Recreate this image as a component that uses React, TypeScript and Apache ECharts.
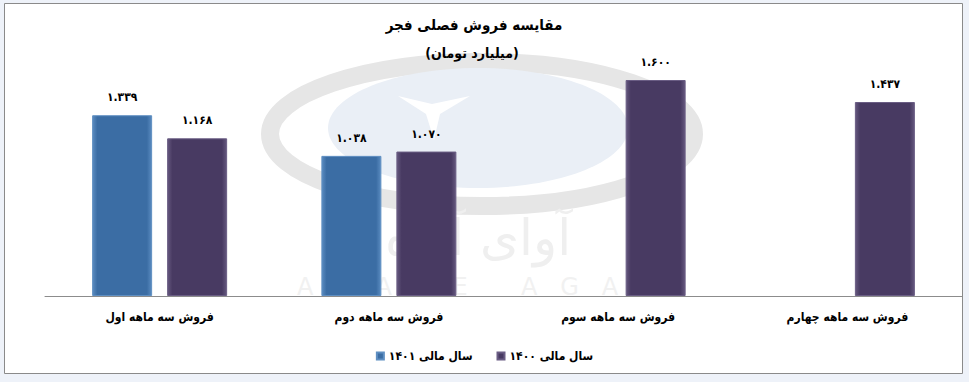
import React, { useEffect, useRef } from "react";
import * as echarts from "echarts";

const titleText = "مقایسه فروش فصلی فجر";
const subtitleText = "(میلیارد تومان)";
const categories = [
  "فروش سه ماهه اول",
  "فروش سه ماهه دوم",
  "فروش سه ماهه سوم",
  "فروش سه ماهه چهارم",
];
const seriesNames = ["سال مالی ۱۴۰۱", "سال مالی ۱۴۰۰"];
const values1401 = [1.339, 1.038, null, null];
const values1400 = [1.168, 1.07, 1.6, 1.437];

const faDigits = "۰۱۲۳۴۵۶۷۸۹";
const toFa = (v: number) =>
  v.toFixed(3).replace(/[0-9]/g, (d) => faDigits[Number(d)]);

const FONT = "'DejaVu Sans Condensed', 'DejaVu Sans', sans-serif";

export default function App() {
  const ref = useRef<HTMLDivElement>(null);
  useEffect(() => {
    document.body.style.margin = "0";
    if (!ref.current) return;
    const chart = echarts.init(ref.current, undefined, { renderer: "svg" });
    const barGrad = (c1: string, c2: string) =>
      new echarts.graphic.LinearGradient(0, 0, 1, 0, [
        { offset: 0, color: c2 },
        { offset: 0.08, color: c1 },
        { offset: 0.92, color: c1 },
        { offset: 1, color: c2 },
      ]);
    const labelCfg = {
      show: true,
      position: "top",
      distance: 12,
      formatter: (p: any) => toFa(p.value),
      fontFamily: FONT,
      fontSize: 12,
      fontWeight: "bold",
      color: "#000",
    };
    chart.setOption({
      animation: false,
      backgroundColor: "#eef2f9",
      textStyle: { fontFamily: FONT },
      graphic: [
        {
          type: "rect",
          z: -10,
          shape: { x: 4.5, y: 3.5, width: 958, height: 370 },
          style: { fill: "#ffffff", stroke: "#8a8a8a", lineWidth: 1 },
          silent: true,
        },
        {
          type: "ellipse",
          z: -9,
          shape: { cx: 482, cy: 134, rx: 212, ry: 72 },
          style: { fill: "none", stroke: "#e6e6e6", lineWidth: 18 },
          silent: true,
        },
        {
          type: "ellipse",
          z: -8,
          shape: { cx: 478, cy: 128, rx: 150, ry: 60 },
          style: { fill: "#eaeff6" },
          silent: true,
        },
        {
          type: "polygon",
          z: -7,
          shape: {
            points: [
              [398, 96],
              [432, 104],
              [470, 96],
              [440, 114],
              [434, 140],
              [426, 114],
            ],
          },
          style: { fill: "#ffffff" },
          silent: true,
        },
        {
          type: "text",
          z: -7,
          x: 478,
          y: 238,
          style: {
            text: "آوای آگاه",
            fill: "#efefef",
            font: "50px 'DejaVu Sans', sans-serif",
            textAlign: "center",
            textVerticalAlign: "middle",
          },
          silent: true,
        },
        {
          type: "text",
          z: -7,
          x: 478,
          y: 287,
          style: {
            text: "A   V   A   Y   E       A   G   A   H",
            fill: "#f1f1f1",
            font: "24px 'DejaVu Sans', sans-serif",
            textAlign: "center",
            textVerticalAlign: "middle",
          },
          silent: true,
        },
      ],
      title: [
        {
          text: titleText,
          left: 469,
          top: 12,
          textAlign: "center",
          textStyle: { fontFamily: FONT, fontSize: 15, fontWeight: "bold", color: "#000" },
        },
        {
          text: subtitleText,
          left: 467,
          top: 41,
          textAlign: "center",
          textStyle: { fontFamily: FONT, fontSize: 14, fontWeight: "bold", color: "#000" },
        },
      ],
      legend: {
        left: "center",
        top: 345,
        icon: "rect",
        itemWidth: 7,
        itemHeight: 7,
        itemGap: 24,
        data: seriesNames,
        textStyle: { fontFamily: FONT, fontSize: 12, fontWeight: "bold", color: "#000" },
      },
      grid: { left: 45, right: 7, top: 53, bottom: 86 },
      xAxis: {
        type: "category",
        data: categories,
        axisLine: { lineStyle: { color: "#8c8c8c" } },
        axisTick: { show: false },
        axisLabel: {
          margin: 15,
          fontFamily: FONT,
          fontSize: 12,
          fontWeight: "bold",
          color: "#000",
        },
      },
      yAxis: {
        type: "value",
        min: 0,
        max: 1.8,
        show: false,
        splitLine: { show: false },
      },
      series: [
        {
          name: seriesNames[0],
          type: "bar",
          data: values1401,
          barWidth: 60,
          barGap: "25%",
          itemStyle: {
            color: barGrad("#3b6da4", "#5a8bc0"),
            borderColor: "#5f8fc2",
            borderWidth: 1,
          },
          label: labelCfg,
        },
        {
          name: seriesNames[1],
          type: "bar",
          data: values1400,
          barWidth: 60,
          barGap: "25%",
          itemStyle: {
            color: barGrad("#483a62", "#65587e"),
            borderColor: "#6a5d84",
            borderWidth: 1,
          },
          label: labelCfg,
        },
      ],
    });
    return () => chart.dispose();
  }, []);
  return <div ref={ref} style={{ width: 969, height: 382 }} />;
}
